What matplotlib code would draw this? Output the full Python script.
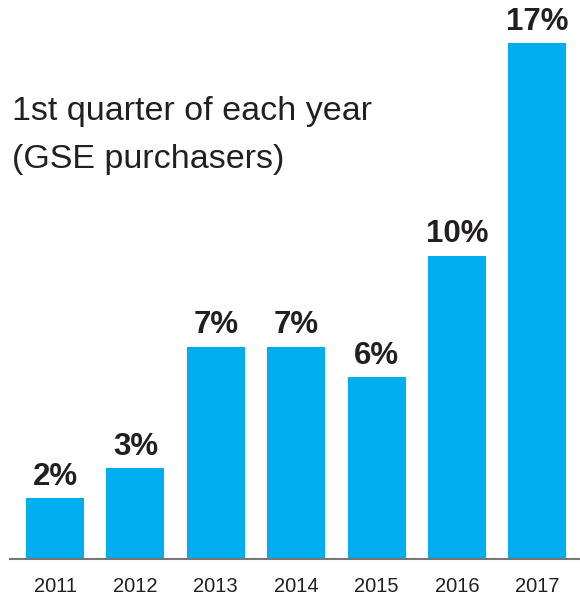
import numpy as np
import matplotlib.pyplot as plt

# data to plot
years = ['2011', '2012', '2013', '2014', '2015', '2016', '2017']
shares = [2, 3, 7, 7, 6, 10, 17]
pct_labels = ['2%', '3%', '7%', '7%', '6%', '10%', '17%']

plt.rcParams['font.family'] = ['Liberation Sans', 'DejaVu Sans']

fig = plt.figure(figsize=(5.8, 5.96), dpi=100)
ax = fig.add_axes([10 / 580, 37 / 596, 570 / 580, 559 / 596])

index = np.arange(len(years))
bar_color = '#00aeef'
text_color = '#231f20'

ax.bar(index, shares, 0.72, color=bar_color)

for i, (v, lab) in enumerate(zip(shares, pct_labels)):
    ax.text(i, v + 0.2, lab, ha='center', va='bottom', fontsize=22.5,
            fontweight='bold', color=text_color)

ax.set_xlim(-0.56, 6.53)
ax.set_ylim(0, 18.42)

ax.set_xticks(index)
ax.set_xticklabels(years, fontsize=14.5, color=text_color)
ax.tick_params(axis='x', length=0, pad=13)
ax.set_yticks([])

for side in ['top', 'right', 'left']:
    ax.spines[side].set_visible(False)
ax.spines['bottom'].set_color('#777777')
ax.spines['bottom'].set_linewidth(1.5)

fig.text(12 / 580, 1 - 120 / 596, '1st quarter of each year', fontsize=24.5,
         color=text_color, ha='left', va='baseline')
fig.text(12 / 580, 1 - 168 / 596, '(GSE purchasers)', fontsize=24.5,
         color=text_color, ha='left', va='baseline')

fig.savefig('out.png', dpi=100)
